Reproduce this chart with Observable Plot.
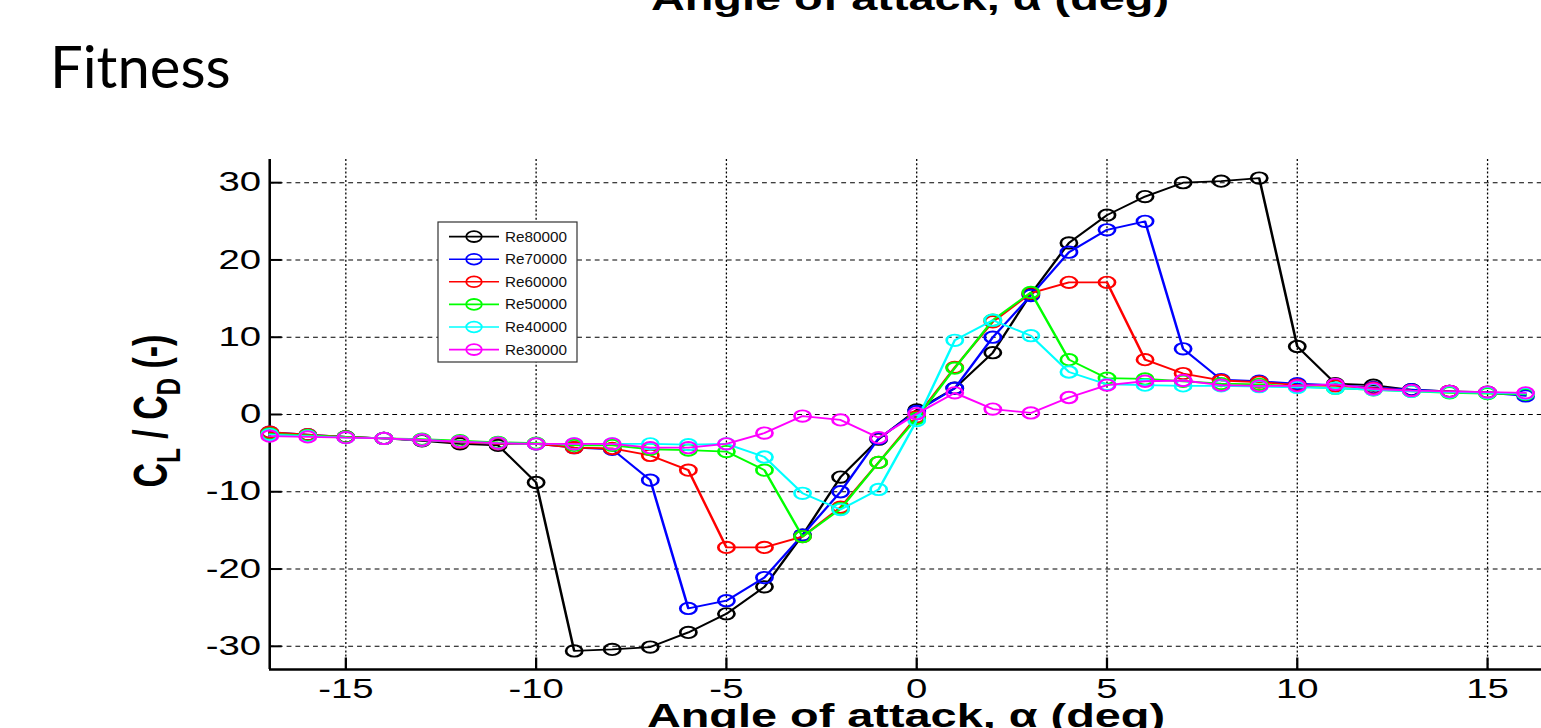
<!DOCTYPE html>
<html>
<head>
<meta charset="utf-8">
<script src="https://cdn.jsdelivr.net/npm/d3@7"></script>
<script src="https://cdn.jsdelivr.net/npm/@observablehq/plot@0.6"></script>
<style>
  html, body { margin: 0; padding: 0; background: #fff; overflow: hidden; width: 1541px; height: 728px; }
  #chart { position: absolute; left: 0; top: 0; transform-origin: 0 0; }
  #overlay { position: absolute; left: 0; top: 0; pointer-events: none; }
</style>
</head>
<body>
<div id="chart"></div>
<svg id="overlay" width="1541" height="728"></svg>
<script>
// ---------- data ----------
const angles = [-17,-16,-15,-14,-13,-12,-11,-10,-9,-8,-7,-6,-5,-4,-3,-2,-1,0,1,2,3,4,5,6,7,8,9,10,11,12,13,14,15,16];
const re80000 = [-2.4,-2.7,-2.9,-3.1,-3.4,-3.8,-4.0, -8.8,-30.6,-30.4,-30.1,-28.2,-25.8,-22.3,-15.6,-8.1,-3.2, 0.6, 3.4,8.0,15.6,22.2,25.8,28.2,30.0,30.2,30.6, 8.8,4.0,3.8,3.2,3.0,2.9,2.6];
const re70000 = [-2.3,-2.6,-2.9,-3.1,-3.3,-3.6,-3.8, -3.8,-4.3,-4.5,-8.5,-25.1,-24.1,-21.1,-15.6,-10.0,-3.1, 0.4, 3.4,10.0,15.4,21.0,23.9,25.0,8.5,4.5,4.3, 4.0,3.8,3.5,3.2,3.0,2.8,2.4];
const re60000 = [-2.3,-2.6,-2.9,-3.1,-3.3,-3.6,-3.8, -3.8,-4.3,-4.4,-5.3,-7.2,-17.2,-17.2,-15.8,-12.0,-6.2, -0.3, 6.1,12.0,15.7,17.1,17.1,7.1,5.3,4.4,4.2, 3.8,3.7,3.4,3.1,3.0,2.8,2.7];
const re50000 = [-2.5,-2.7,-2.9,-3.1,-3.2,-3.4,-3.6, -3.7,-4.0,-4.0,-4.5,-4.6,-4.8,-7.2,-15.8,-12.2,-6.2, -0.5, 6.0,12.2,15.8,7.1,4.7,4.6,4.3,4.0,3.9, 3.6,3.4,3.2,3.0,2.8,2.7,2.6];
const re40000 = [-2.6,-2.8,-3.0,-3.1,-3.3,-3.5,-3.7, -3.8,-3.8,-3.8,-3.8,-3.9,-3.8,-5.5,-10.2,-12.3,-9.7, -0.8, 9.6,12.2,10.2,5.5,3.9,3.8,3.7,3.7,3.6, 3.5,3.4,3.2,3.0,2.9,2.8,2.7];
const re30000 = [-2.8,-2.9,-3.0,-3.1,-3.3,-3.5,-3.7, -3.8,-3.8,-3.8,-4.3,-4.3,-3.8,-2.4,-0.2,-0.7,-3.0, 0.1, 2.8,0.7,0.2,2.2,3.8,4.3,4.4,3.8,3.7, 3.7,3.9,3.3,3.1,3.0,2.9,2.8];

const seriesNames = ["Re80000","Re70000","Re60000","Re50000","Re40000","Re30000"];
const seriesValues = [re80000, re70000, re60000, re50000, re40000, re30000];
const seriesColors = ["#000000","#0000ff","#ff0000","#00ff00","#00ffff","#ff00ff"];

const xTicks = [-15,-10,-5,0,5,10,15];
const yTicks = [-30,-20,-10,0,10,20,30];
const xDomain = [-17, 17];
const yDomain = [-33, 33];

const titleText = "Fitness";
const xLabel = "Angle of attack, \u03B1 (deg)";

// ---------- layout (horizontal stretch like the pasted picture) ----------
const k = 1.42;
const finalLeft = 269, finalRight = 1563, finalWidth = 1600;
const W0 = finalWidth / k;
const ML = finalLeft / k;
const MR = (finalWidth - finalRight) / k;
const fmt = d => String(d);

const marks = [
  Plot.gridX(xTicks, {stroke: "black", strokeOpacity: 1, strokeWidth: 0.9, strokeDasharray: "2,2.2"}),
  Plot.gridY(yTicks, {stroke: "black", strokeOpacity: 1, strokeWidth: 1, strokeDasharray: "3.4,2.8"}),
  Plot.axisX(xTicks, {tickSize: 0, tickPadding: 9, label: null, tickFormat: fmt}),
  Plot.axisY(yTicks, {tickSize: 0, tickPadding: 6, label: null, tickFormat: fmt}),
  Plot.ruleX([xDomain[0]], {stroke: "black", strokeWidth: 1.8}),
  Plot.ruleY([yDomain[0]], {stroke: "black", strokeWidth: 2.5}),
  Plot.vector(xTicks, {x: d => d, y: () => yDomain[0], length: 12, rotate: 0, anchor: "start", r: 0, stroke: "black", strokeWidth: 1.6, strokeLinecap: "butt"}),
  Plot.vector(yTicks, {x: () => xDomain[0], y: d => d, length: 12 / k, rotate: 90, anchor: "start", r: 0, stroke: "black", strokeWidth: 2, strokeLinecap: "butt"})
];

seriesNames.forEach((name, i) => {
  const data = angles.map((a, j) => ({angle: a, value: seriesValues[i][j], series: name}));
  marks.push(Plot.line(data, {x: "angle", y: "value", stroke: seriesColors[i], strokeWidth: 1.8}));
  marks.push(Plot.dot(data, {x: "angle", y: "value", r: 5.7, stroke: seriesColors[i], strokeWidth: 1.9, fill: "none"}));
});

const plot = Plot.plot({
  width: W0,
  height: 728,
  marginLeft: ML,
  marginRight: MR,
  marginTop: 159,
  marginBottom: 59,
  x: {domain: xDomain},
  y: {domain: yDomain},
  style: {fontFamily: "'Liberation Sans', Arial, sans-serif", fontSize: "27px", color: "black", background: "transparent", overflow: "visible"},
  marks
});

const chart = document.getElementById("chart");
chart.style.transform = `scaleX(${k})`;
chart.appendChild(plot);

const svg = d3.select(plot);
// bottom x label (clipped by window)
svg.append("text")
  .attr("x", 906 / k).attr("y", 727)
  .attr("text-anchor", "middle")
  .attr("font-family", "'Liberation Sans', Arial, sans-serif")
  .attr("font-weight", "bold").attr("font-size", 33)
  .attr("fill", "black")
  .text(xLabel);
// remnant label at the very top
svg.append("text")
  .attr("x", 910 / k).attr("y", 10)
  .attr("text-anchor", "middle")
  .attr("font-family", "'Liberation Sans', Arial, sans-serif")
  .attr("font-weight", "bold").attr("font-size", 33)
  .attr("fill", "black")
  .text(xLabel);
// y label with subscripts
const yl = svg.append("text")
  .attr("transform", `translate(${167 / k},411) rotate(-90)`)
  .attr("text-anchor", "middle")
  .attr("font-family", "'Liberation Sans', Arial, sans-serif")
  .attr("font-weight", "bold").attr("font-size", 34)
  .attr("fill", "black");
yl.append("tspan").text("C");
yl.append("tspan").attr("dy", 9).attr("font-size", 24).text("L");
yl.append("tspan").attr("dy", -9).text(" / C");
yl.append("tspan").attr("dy", 9).attr("font-size", 24).text("D");
yl.append("tspan").attr("dy", -9).text(" (-)");

// ---------- overlay: title and legend ----------
const ov = d3.select("#overlay");
ov.append("text")
  .attr("x", 50).attr("y", 88)
  .attr("font-family", "Lato, 'Open Sans', sans-serif")
  .attr("font-size", 58)
  .attr("fill", "black")
  .text(titleText);

const lg = ov.append("g").attr("transform", "translate(438,222)");
lg.append("rect").attr("width", 139).attr("height", 140)
  .attr("fill", "white").attr("stroke", "#333").attr("stroke-width", 1.2);
seriesNames.forEach((name, i) => {
  const yy = 14.6 + i * 22.6;
  lg.append("line").attr("x1", 11).attr("x2", 61).attr("y1", yy).attr("y2", yy)
    .attr("stroke", seriesColors[i]).attr("stroke-width", 1.6);
  lg.append("ellipse").attr("cx", 36).attr("cy", yy).attr("rx", 7.8).attr("ry", 5.4)
    .attr("fill", "none").attr("stroke", seriesColors[i]).attr("stroke-width", 1.8);
  lg.append("text").attr("x", 67).attr("y", yy + 5)
    .attr("font-family", "'Liberation Sans', Arial, sans-serif")
    .attr("font-size", 14).attr("fill", "#111")
    .attr("textLength", 62).attr("lengthAdjust", "spacingAndGlyphs")
    .text(name);
});
</script>
</body>
</html>
